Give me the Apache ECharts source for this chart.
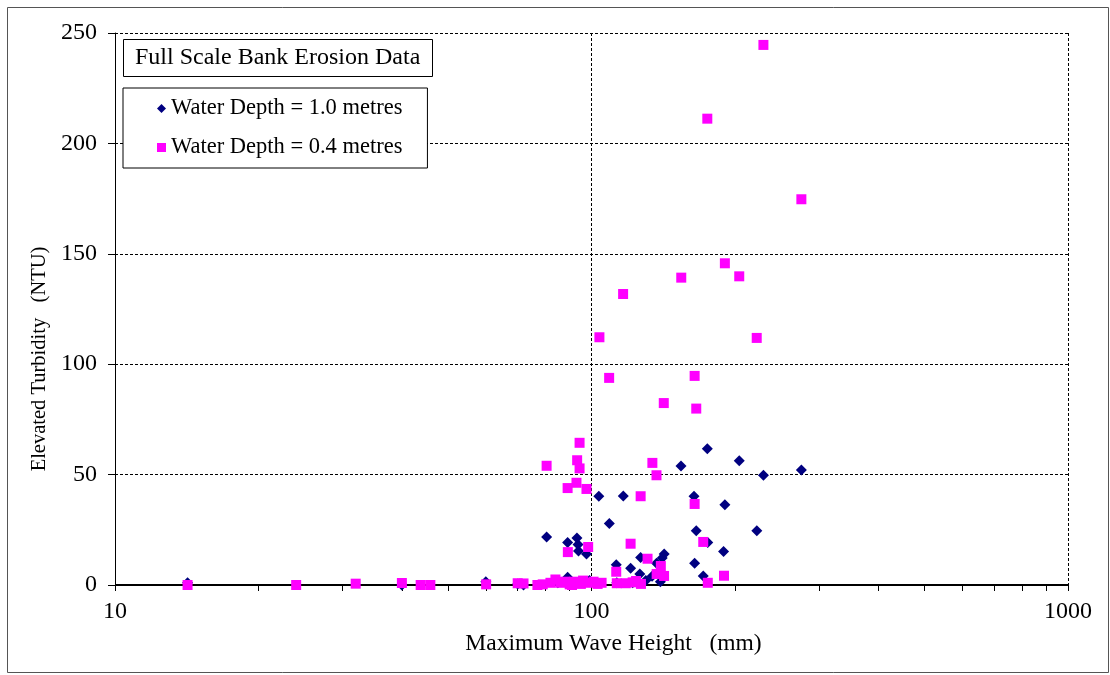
<!DOCTYPE html>
<html>
<head>
<meta charset="utf-8">
<script src="https://cdn.jsdelivr.net/npm/echarts@6/dist/echarts.min.js"></script>
<style>html,body{margin:0;padding:0;background:#fff;}#c{width:1110px;height:675px;}</style>
</head>
<body>
<div id="c"></div>
<script>
const chartTitle = "Full Scale Bank Erosion Data";
const seriesNames = ["Water Depth = 1.0 metres", "Water Depth = 0.4 metres"];
const xAxisName = "Maximum Wave Height   (mm)";
const yAxisName = "Elevated Turbidity   (NTU)";
const minorTickValues = [10,20,30,40,50,60,70,80,90,100,200,300,400,500,600,700,800,900,1000];

// Water depth 1.0 m : [wave height mm, turbidity NTU]
const depth10 = [
  [14.2, 1], [40, 0], [60, 1.5], [70, 0.5], [72, 0], [80.5, 21.7], [85, 1],
  [89.1, 19.2], [89.1, 3.5], [90, 1], [93.2, 21.3], [93.7, 18.3], [93.9, 15.4],
  [95, 1.5], [97.6, 14.0], [99, 2], [103.6, 40.2], [109, 27.8], [112.7, 9.2],
  [113, 1], [116.6, 40.3], [120.8, 7.6], [122, 1], [126.3, 5.0], [126.8, 12.5],
  [130, 2], [134, 4], [136.9, 9.8], [139.5, 1.5], [140.7, 12.2], [142.1, 14.0],
  [154.1, 53.9], [164.1, 40.2], [164.6, 9.8], [165.9, 24.6], [171.6, 4.1],
  [175, 61.7], [175.4, 19.3], [189.3, 15.2], [190.5, 36.4], [204.2, 56.3],
  [222.3, 24.6], [229.5, 49.7], [275.7, 52.1]
];

// Water depth 0.4 m : [wave height mm, turbidity NTU]
const depth04 = [
  [14.2, 0], [24, 0], [32, 0.6], [40, 0.9], [43.8, 0], [45.9, 0], [60.1, 0.3],
  [70, 0.8], [72, 0.7], [77, 0], [79, 0.3], [80.5, 54.0], [82, 1], [84, 2.5],
  [86, 1], [88, 1.5], [89.1, 43.9], [89.2, 14.9], [90, 0.3], [91, 0], [92, 1.5],
  [93, 46.3], [93.3, 56.5], [94.4, 64.4], [94.4, 52.8], [95, 0.5], [96, 2],
  [97.6, 43.5], [98.4, 17.2], [99, 1], [101, 1.5], [103, 0.5], [103.9, 112.2],
  [105, 1], [108.9, 93.8], [112.7, 6.0], [113, 0.8], [116.5, 131.8], [118, 0.8],
  [120.8, 18.7], [122, 1.2], [124, 1.8], [126.8, 40.2], [127, 0.5], [131.1, 11.9],
  [134.2, 55.3], [136.9, 49.7], [137, 5.0], [139.8, 8.6], [141.8, 82.4], [142, 4.1],
  [154.3, 139.2], [164.6, 36.7], [164.6, 94.7], [165.9, 79.9], [171.6, 19.5],
  [175, 211.2], [175.4, 1.0], [189.7, 4.2], [190.5, 145.7], [204.2, 139.8],
  [222.2, 111.9], [229.5, 244.6], [275.7, 174.7]
];

const FONT = "'Liberation Serif', 'Times New Roman', serif";
const chart = echarts.init(document.getElementById('c'), null, {renderer: 'canvas'});
chart.setOption({
  backgroundColor: '#ffffff',
  animation: false,
  textStyle: {fontFamily: FONT, color: '#000'},
  graphic: [{
    type: 'rect', left: 5, top: 5, silent: true,
    shape: {width: 1101, height: 665},
    style: {fill: 'none', stroke: '#555', lineWidth: 1}
  }],
  title: {
    text: chartTitle, left: 123, top: 39,
    borderColor: '#000', borderWidth: 1, padding: [7, 12, 7, 12],
    backgroundColor: '#fff',
    textStyle: {fontFamily: FONT, fontSize: 24, fontWeight: 'normal', color: '#000'}
  },
  legend: {
    left: 123, top: 88, orient: 'vertical',
    borderColor: '#000', borderWidth: 1, backgroundColor: '#fff',
    padding: [9, 25, 9, 34], itemGap: 16, itemWidth: 9, itemHeight: 9,
    textStyle: {fontFamily: FONT, fontSize: 22.5, color: '#000'},
    data: [{name: seriesNames[0], icon: 'diamond'}, {name: seriesNames[1], icon: 'rect'}]
  },
  grid: {left: 115, right: 42, top: 33, bottom: 90, containLabel: false},
  xAxis: [{
    type: 'log', logBase: 10, min: 10, max: 1000,
    name: xAxisName, nameLocation: 'middle', nameGap: 47,
    nameTextStyle: {fontFamily: FONT, fontSize: 23.5, color: '#000', padding: [0, 0, 0, 44]},
    axisLine: {show: true, onZero: false, lineStyle: {color: '#000', width: 1}},
    axisTick: {show: false},
    axisLabel: {fontFamily: FONT, fontSize: 24, color: '#000', margin: 15,
      formatter: function (v) { return String(Math.round(v)); }},
    splitLine: {show: true, lineStyle: {color: '#000', type: [3, 2], width: 1}},
    minorTick: {show: false}
  }, {
    type: 'log', logBase: 10, min: 10, max: 1000, position: 'bottom',
    axisLine: {show: false},
    axisTick: {show: true, inside: false, length: 6, customValues: minorTickValues,
      lineStyle: {color: '#000', width: 1}},
    axisLabel: {show: false},
    splitLine: {show: false}
  }],
  yAxis: {
    type: 'value', min: 0, max: 250, interval: 50,
    name: yAxisName, nameLocation: 'middle', nameGap: 64, nameRotate: 90,
    nameTextStyle: {fontFamily: FONT, fontSize: 20.5, color: '#000', padding: [0, 100, 0, 0]},
    axisLine: {show: true, lineStyle: {color: '#000', width: 1}},
    axisTick: {show: true, length: 7, lineStyle: {color: '#000'}},
    axisLabel: {fontFamily: FONT, fontSize: 24, color: '#000', margin: 18},
    splitLine: {show: true, lineStyle: {color: '#000', type: [3, 2], width: 1}}
  },
  series: [{
    name: seriesNames[0], type: 'scatter', data: depth10, xAxisIndex: 0,
    symbol: 'diamond', symbolSize: 11, z: 3,
    itemStyle: {color: '#000080', opacity: 1}
  }, {
    name: seriesNames[1], type: 'scatter', data: depth04, xAxisIndex: 0,
    symbol: 'rect', symbolSize: 10, z: 4,
    itemStyle: {color: '#ff00ff', opacity: 1}
  }, {
    type: 'line', data: [[10, 0], [1000, 0]], xAxisIndex: 0, silent: true,
    symbol: 'none', lineStyle: {color: '#000', width: 2}, z: 2, legendHoverLink: false
  }]
});
</script>
</body>
</html>
